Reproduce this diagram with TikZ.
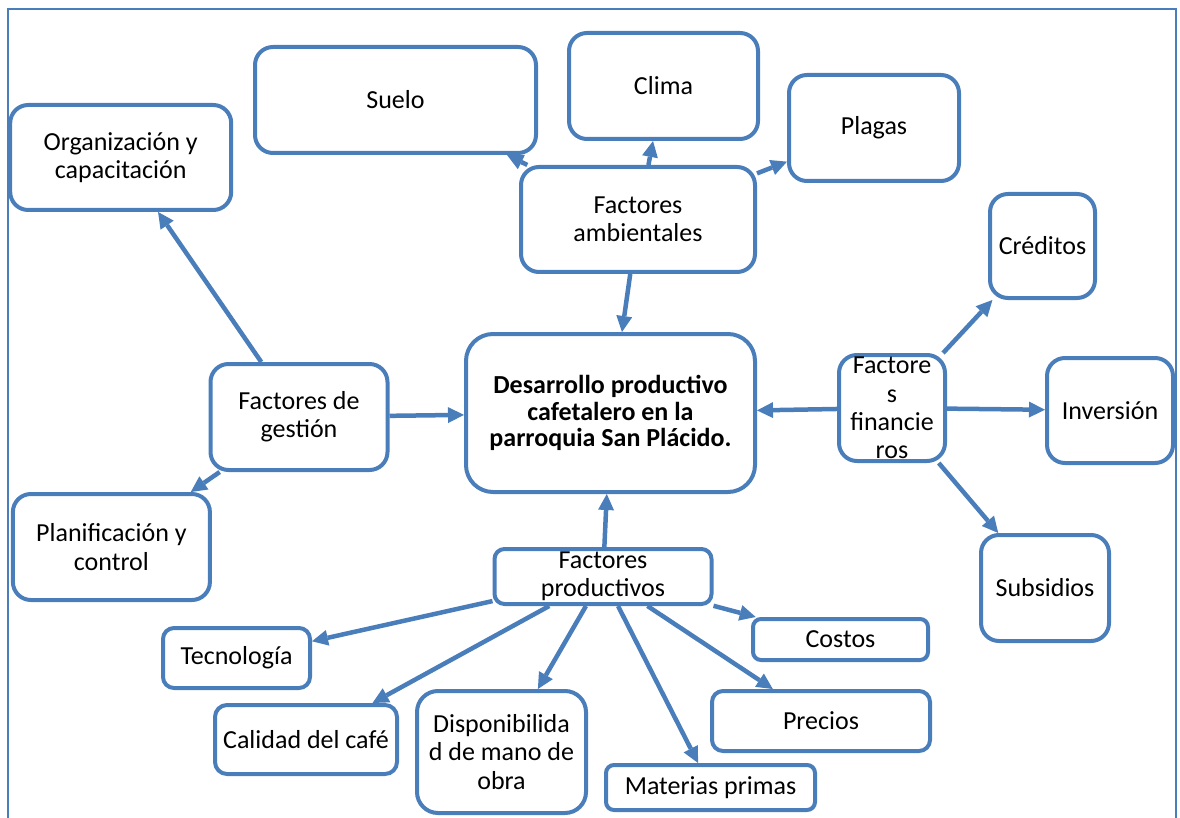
\documentclass[tikz,border=0pt]{standalone}
\usepackage{fontspec}
\setmainfont{Carlito}
\usetikzlibrary{arrows.meta}
\definecolor{azul}{RGB}{74,126,187}

\begin{document}
\begin{tikzpicture}[x=1pt, y=-1pt,
    caja/.style={draw=azul, line width=4pt, rounded corners=#1, inner sep=0pt,
      align=center, font=\fontsize{26}{28.3}\selectfont},
    caja/.default=18pt,
    flecha/.style={color=azul, draw, line width=4.5pt, -{Triangle[length=16pt,width=16pt,line width=0pt]}}]
    \useasboundingbox (0,0) rectangle (1180,818);
    \draw[azul, line width=1.5pt] (8,818) -- (8,9) -- (1176,9) -- (1176,818);

    % centro
    \node[caja=27pt, minimum width=289, minimum height=158, font=\fontsize{26}{26.7}\selectfont\bfseries] (centro) at (610.5,413)
      {Desarrollo productivo\\cafetalero en la\\parroquia San Plácido.};

    % factores ambientales
    \node[caja, minimum width=234, minimum height=105] (amb) at (638,219.5) {Factores\\ambientales};
    \node[caja, minimum width=281, minimum height=106] (suelo) at (395.5,100) {Suelo};
    \node[caja, minimum width=189, minimum height=106] (clima) at (663.5,86) {Clima};
    \node[caja, minimum width=170, minimum height=106] (plagas) at (874,128) {Plagas};

    % factores de gestion
    \node[caja, minimum width=177, minimum height=106] (gestion) at (299,417) {Factores de\\gestión};
    \node[caja, minimum width=221, minimum height=105] (org) at (120.7,157.5) {Organización y\\capacitación};
    \node[caja, minimum width=197, minimum height=106] (plan) at (111.4,547) {Planificación y\\control};

    % factores financieros
    \node[caja, minimum width=106, minimum height=106] (fin) at (892,408) {Factore\\s\\financie\\ros};
    \node[caja, minimum width=105, minimum height=104] (cred) at (1042.5,246) {Créditos};
    \node[caja, minimum width=126, minimum height=105] (inv) at (1110,410.5) {Inversión};
    \node[caja, minimum width=128, minimum height=106] (sub) at (1045,588) {Subsidios};

    % factores productivos
    \node[caja=10pt, minimum width=217, minimum height=55] (prod) at (603,576.5) {Factores\\productivos};
    \node[caja=11pt, minimum width=147, minimum height=60] (tec) at (236.5,658) {Tecnología};
    \node[caja=8pt, minimum width=175, minimum height=41] (costos) at (840.5,639.5) {Costos};
    \node[caja=12pt, minimum width=182, minimum height=69] (cal) at (306,739.5) {Calidad del café};
    \node[caja=21pt, minimum width=169, minimum height=122] (disp) at (501.5,752) {Disponibilida\\d de mano de\\obra};
    \node[caja=11pt, minimum width=218, minimum height=60] (precios) at (821,721) {Precios};
    \node[caja=8pt, minimum width=209, minimum height=45] (mat) at (710.5,787.5) {Materias primas};

    \path[flecha]
    (amb) edge (suelo)
    (amb) edge (clima)
    (amb) edge (plagas)
    (amb) edge (centro)
    (gestion) edge (org)
    (gestion) edge (centro)
    (gestion) edge (plan)
    (fin) edge (centro)
    (fin) edge (cred)
    (fin) edge (inv)
    (fin) edge (sub)
    (prod) edge (centro)
    (prod) edge (tec)
    (prod) edge (cal)
    (prod) edge (disp)
    (prod) edge (mat)
    (prod) edge (precios)
    (prod) edge (costos);
\end{tikzpicture}
\end{document}
